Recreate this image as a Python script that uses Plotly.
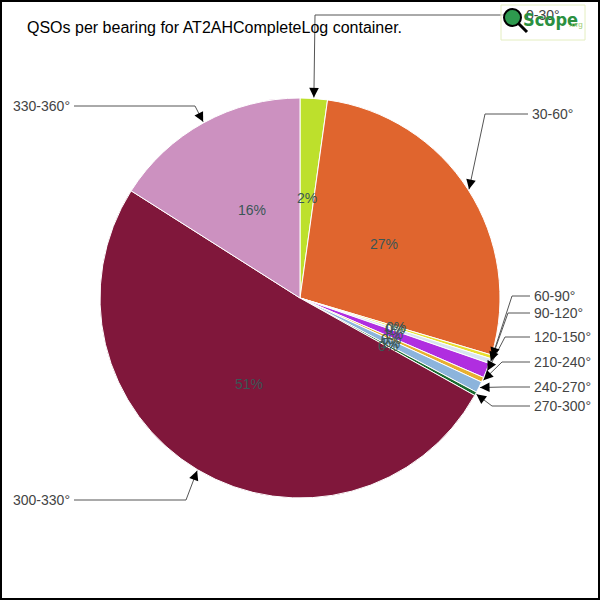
import math
import plotly.graph_objects as go

# ---- data ----
bearings = ["0-30°", "30-60°", "60-90°", "90-120°", "120-150°",
            "210-240°", "240-270°", "270-300°", "300-330°", "330-360°"]
qso_counts = [22, 274, 3, 4, 12, 4, 9, 3, 509, 160]
colors = ["#bde02c", "#e0652e", "#e8e030", "#d8e4f0", "#b02ee0",
          "#e8b030", "#8cb4dc", "#1a6b30", "#80173b", "#cc91c0"]
title_text = "QSOs per bearing for AT2AHCompleteLog container."

# label layout (pixel positions of callout text + elbow)
# (text_x, text_y, elbow_x, elbow_y, align)
callouts = [
    (524, 15, 315, 15, "left"),
    (530, 114, 485, 114, "left"),
    (532, 296, 512, 296, "left"),
    (532, 313, 508, 313, "left"),
    (532, 337, 505, 337, "left"),
    (532, 362, 502, 362, "left"),
    (532, 387, 503, 387, "left"),
    (532, 406, 492, 406, "left"),
    (72, 500, 186, 500, "right"),
    (72, 106, 195, 106, "right"),
]

W = H = 600
CX, CY, R = 300, 298, 200


def X(px):
    return px / W


def Y(py):
    return 1 - py / H


fig = go.Figure()
fig.add_trace(go.Pie(
    labels=bearings, values=qso_counts, sort=False, direction="clockwise",
    rotation=0, marker=dict(colors=colors, line=dict(color="white", width=1)),
    textinfo="none", hoverinfo="label+percent", showlegend=False,
    domain=dict(x=[X(CX - R), X(CX + R)], y=[Y(CY + R), Y(CY - R)]),
))

total = sum(qso_counts)
shapes = []
annotations = []
cum = 0.0
label_font = dict(family="Liberation Sans, Arial", size=14, color="#444444")
pct_font = dict(family="Liberation Sans, Arial", size=14, color="#3a5656")
for i, v in enumerate(qso_counts):
    frac = v / total
    mid = (cum + frac / 2) * 2 * math.pi
    cum += frac
    sx, sy = math.sin(mid), -math.cos(mid)
    # percentage label
    annotations.append(dict(
        x=X(CX + 0.5 * R * sx), y=Y(CY + 0.5 * R * sy), xref="paper", yref="paper",
        text=f"{round(frac * 100)}%", showarrow=False, font=pct_font,
        xanchor="center", yanchor="middle"))
    # callout
    tx, ty, ex, ey, al = callouts[i]
    tipx, tipy = CX + (R + 1) * sx, CY + (R + 1) * sy
    shapes.append(dict(type="line", xref="paper", yref="paper",
                       x0=X(ex), y0=Y(ey), x1=X(tipx), y1=Y(tipy),
                       line=dict(color="#555555", width=1)))
    hx = tx - 2 if al == "left" else tx + 2
    shapes.append(dict(type="line", xref="paper", yref="paper",
                       x0=X(ex), y0=Y(ey), x1=X(hx), y1=Y(ty),
                       line=dict(color="#555555", width=1)))
    dx, dy = ex - tipx, ey - tipy
    d = math.hypot(dx, dy)
    annotations.append(dict(
        x=X(tipx), y=Y(tipy), xref="paper", yref="paper", text="",
        showarrow=True, arrowhead=2, arrowsize=1.6, arrowwidth=1.2,
        arrowcolor="#000000", ax=dx / d * 10, ay=dy / d * 10, standoff=0))
    annotations.append(dict(
        x=X(tx), y=Y(ty), xref="paper", yref="paper", text=bearings[i],
        showarrow=False, font=label_font,
        xanchor="left" if al == "left" else "right", yanchor="middle"))

# title
annotations.append(dict(x=X(25), y=Y(27), xref="paper", yref="paper",
                        text=title_text, showarrow=False, xanchor="left",
                        yanchor="middle",
                        font=dict(family="Liberation Sans, Arial", size=16,
                                  color="#000000")))

# logo (approximation)
shapes.append(dict(type="rect", xref="paper", yref="paper",
                   x0=X(501), x1=X(585), y0=Y(40), y1=Y(5),
                   line=dict(color="#e4eec0", width=1),
                   fillcolor="rgba(255,255,255,0.6)"))
shapes.append(dict(type="line", xref="paper", yref="paper",
                   x0=X(518), y0=Y(23), x1=X(527), y1=Y(32),
                   line=dict(color="#000000", width=3)))
shapes.append(dict(type="circle", xref="paper", yref="paper",
                   x0=X(504), x1=X(521), y0=Y(26), y1=Y(9),
                   fillcolor="#2e9a4e", line=dict(color="#000000", width=2)))
annotations.append(dict(x=X(521), y=Y(20), xref="paper", yref="paper",
                        text="<b>Scope</b>", showarrow=False, xanchor="left",
                        yanchor="middle",
                        font=dict(family="DejaVu Sans Condensed, Arial",
                                  size=18, color="#2a9040")))
annotations.append(dict(x=X(567), y=Y(25), xref="paper", yref="paper",
                        text=".org", showarrow=False, xanchor="left",
                        yanchor="middle",
                        font=dict(family="Liberation Sans, Arial", size=8,
                                  color="#9ccc70")))

# border
shapes.append(dict(type="rect", xref="paper", yref="paper",
                   x0=X(1), x1=X(599), y0=Y(599), y1=Y(1),
                   line=dict(color="#000000", width=2)))

fig.update_layout(width=W, height=H, autosize=False,
                  margin=dict(l=0, r=0, t=0, b=0),
                  paper_bgcolor="white", plot_bgcolor="white",
                  shapes=shapes, annotations=annotations)
fig.write_html("out.html", config={"displayModeBar": False},
               post_script="document.body.style.margin='0';"
                           "document.body.style.overflow='hidden';")
